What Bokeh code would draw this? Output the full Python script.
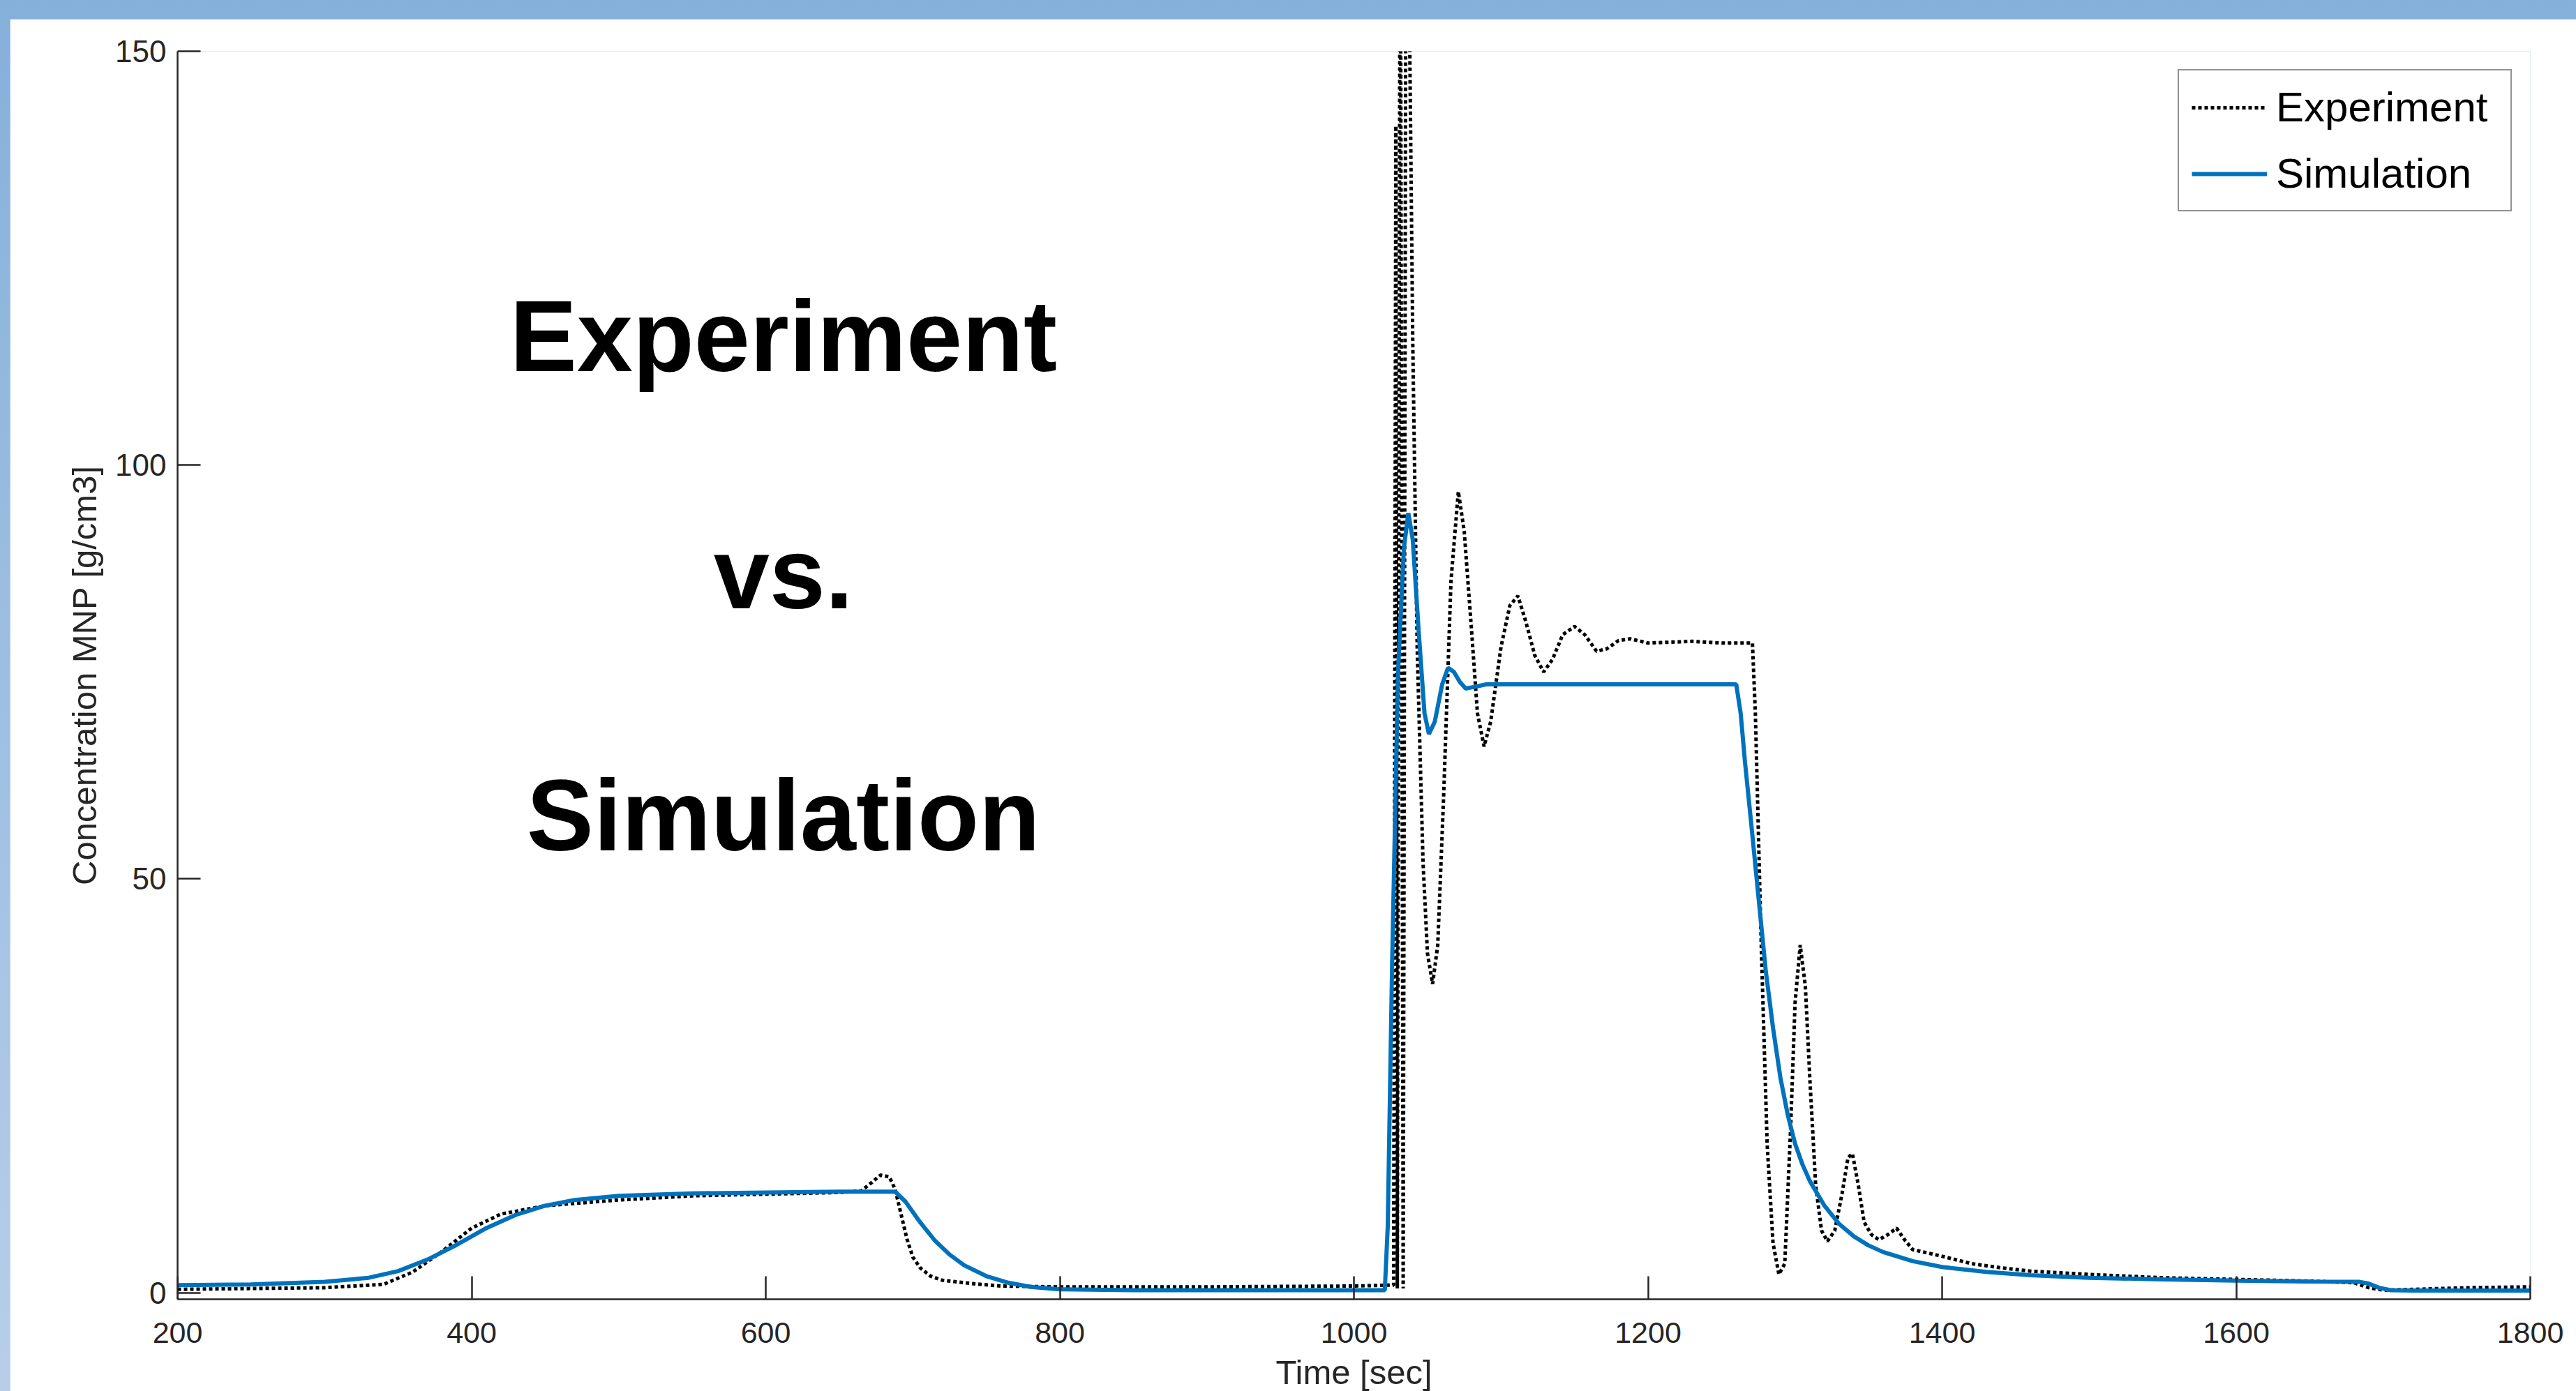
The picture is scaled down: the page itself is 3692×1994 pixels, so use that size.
from bokeh.plotting import figure
from bokeh.models import Label, Legend, LegendItem, FixedTicker, Range1d, Spacer
from bokeh.layouts import column, row
from bokeh.embed import file_html
from bokeh.resources import INLINE

# ---- data ----
exp_t = [200, 250, 300, 340, 360, 380, 400, 420, 450, 500, 550, 600, 650, 665,
         672, 678, 684, 688, 692, 696, 700, 705, 712, 720, 740, 760, 800, 900,
         1000, 1022, 1027, 1028.5, 1029.5, 1031.5, 1033.5, 1035.5, 1038, 1040,
         1043, 1047, 1050, 1053.5, 1057, 1061, 1066, 1071, 1075, 1080, 1084,
         1088.5, 1093, 1100, 1106, 1111.5, 1117, 1123, 1129, 1135, 1142, 1150,
         1157, 1165, 1172, 1180, 1188, 1200, 1230, 1250, 1271, 1273, 1277, 1281,
         1285, 1289, 1293, 1297, 1300, 1303.5, 1307, 1310, 1314, 1318, 1322,
         1327, 1332, 1336, 1339, 1343, 1347, 1352, 1357, 1363, 1369, 1374, 1380,
         1390, 1400, 1420, 1440, 1460, 1500, 1550, 1600, 1650, 1680, 1690, 1700,
         1720, 1760, 1800]
exp_v = [0.4, 0.5, 0.6, 1.0, 2.5, 5.0, 7.8, 9.5, 10.5, 11.2, 11.7, 11.9, 12.1, 12.3,
         13.3, 14.2, 14.0, 12.5, 9.5, 6.5, 4.3, 3.0, 2.0, 1.5, 1.1, 0.8, 0.7, 0.7,
         0.8, 0.9, 0.9, 141, 0.5, 180, 0.5, 180, 150, 115,
         78, 52, 41, 37.3, 42, 60, 86, 96.8, 92, 80, 70,
         66, 69, 78, 83, 84.2, 81, 77, 75, 76.5, 79.5, 80.5,
         79.5, 77.5, 77.8, 78.8, 79, 78.5, 78.7, 78.5, 78.5, 70, 42, 18,
         6, 2.2, 3.5, 20, 35, 42, 37, 26, 13, 7.5, 6.2,
         7.5, 12, 16.3, 16.8, 13, 8.5, 7, 6.4, 7, 7.8, 6.5, 5.2,
         4.8, 4.4, 3.5, 3.0, 2.6, 2.2, 1.8, 1.6, 1.4, 1.2, 0.6, 0.3,
         0.4, 0.6, 0.7]

sim_t = [200, 250, 300, 330, 350, 370, 390, 410, 430, 450, 470, 500, 550, 600,
         650, 688, 695, 705, 715, 725, 735, 750, 765, 780, 800, 850, 900, 1000,
         1021, 1023, 1026, 1030, 1034, 1037, 1040, 1044, 1048, 1051, 1055, 1060,
         1064, 1068, 1072, 1076, 1082, 1090, 1100, 1150, 1200, 1260, 1263, 1266,
         1270, 1275, 1280, 1285, 1290, 1295, 1300, 1305, 1310, 1320, 1330, 1340,
         1350, 1360, 1380, 1400, 1430, 1460, 1500, 1550, 1600, 1650, 1684, 1690,
         1697, 1705, 1720, 1800]
sim_v = [0.9, 1.0, 1.3, 1.8, 2.6, 4.0, 5.8, 7.8, 9.4, 10.5, 11.2, 11.7, 12.0, 12.1,
         12.2, 12.2, 11.0, 8.5, 6.3, 4.6, 3.3, 2.0, 1.2, 0.7, 0.4, 0.3, 0.3, 0.3,
         0.3, 8, 40, 75, 90, 94.2, 91, 80, 70, 67.5, 69, 73.5,
         75.5, 75, 73.8, 73.0, 73.2, 73.5, 73.5, 73.5, 73.5, 73.5, 70, 64,
         57, 48, 39, 32, 26, 21.5, 18, 15.5, 13.5, 10.5, 8.3, 6.8,
         5.7, 4.9, 3.8, 3.1, 2.5, 2.1, 1.8, 1.6, 1.45, 1.35, 1.3, 1.1,
         0.6, 0.3, 0.25, 0.25]

x_ticks = [200, 400, 600, 800, 1000, 1200, 1400, 1600, 1800]
y_ticks = [0, 50, 100, 150]
series_names = ["Experiment", "Simulation"]
x_title = "Time [sec]"
y_title = "Concentration MNP [g/cm3]"
big_texts = ["Experiment", "vs.", "Simulation"]
big_text_pos = [(612, 115.5), (612, 86.9), (612, 57.6)]

FONT = "Liberation Sans"
AX = "#262626"

p = figure(width=3678, height=1986,
           x_range=Range1d(200, 1800), y_range=Range1d(-0.8, 150),
           output_backend="svg", toolbar_location=None,
           min_border_left=240, min_border_right=66,
           min_border_top=46, min_border_bottom=151,
           background_fill_color="white", border_fill_color="white")
p.outline_line_color = None
p.xgrid.visible = False
p.ygrid.visible = False

p.xaxis.ticker = FixedTicker(ticks=x_ticks)
p.yaxis.ticker = FixedTicker(ticks=y_ticks)
p.xaxis.axis_label = x_title
p.yaxis.axis_label = y_title

for ax in (p.xaxis[0], p.yaxis[0]):
    ax.major_tick_in = 33
    ax.major_tick_out = 0
    ax.minor_tick_line_color = None
    ax.axis_line_color = AX
    ax.axis_line_width = 2.5
    ax.major_tick_line_color = AX
    ax.major_tick_line_width = 2.5
    ax.major_label_text_font = FONT
    ax.major_label_text_color = AX
    ax.axis_label_text_font = FONT
    ax.axis_label_text_font_style = "normal"
    ax.axis_label_text_font_size = "49px"
    ax.axis_label_text_color = AX

p.xaxis[0].major_label_text_font_size = "43px"
p.yaxis[0].major_label_text_font_size = "44px"
p.xaxis[0].major_label_standoff = 33
p.xaxis[0].axis_label_standoff = 12
p.yaxis[0].major_label_standoff = 16
p.yaxis[0].axis_label_standoff = 14

r_exp = p.line(exp_t, exp_v, line_color="black", line_width=5, line_dash="5 4")
r_sim = p.line(sim_t, sim_v, line_color="#0072BD", line_width=6)

legend = Legend(items=[LegendItem(label=series_names[0], renderers=[r_exp]),
                       LegendItem(label=series_names[1], renderers=[r_sim])],
                location="top_right")
legend.margin = 26
legend.padding = 18
legend.spacing = 26
legend.label_height = 60
legend.glyph_height = 60
legend.glyph_width = 108
legend.label_standoff = 13
legend.label_width = 318
legend.label_text_font = FONT
legend.label_text_font_size = "60px"
legend.label_text_color = "black"
legend.border_line_color = AX
legend.border_line_width = 2.5
legend.background_fill_color = "white"
legend.background_fill_alpha = 1.0
p.add_layout(legend)

for txt, (tx, ty) in zip(big_texts, big_text_pos):
    p.add_layout(Label(x=tx, y=ty, text=txt, text_font=FONT,
                       text_font_size="144px", text_font_style="bold",
                       text_color="black", text_align="center",
                       text_baseline="alphabetic"))

layout = column(Spacer(width=3692, height=27),
                row(Spacer(width=14, height=1986), p))

html = file_html(layout, INLINE, title="Experiment vs. Simulation")
style = ("<style>html,body{margin:0;padding:0;overflow:hidden;}"
         "body{background:linear-gradient(to bottom,#85b0da,#b7cee9);}</style>")
html = html.replace("<head>", "<head>" + style, 1)
open("out.html", "w").write(html)
